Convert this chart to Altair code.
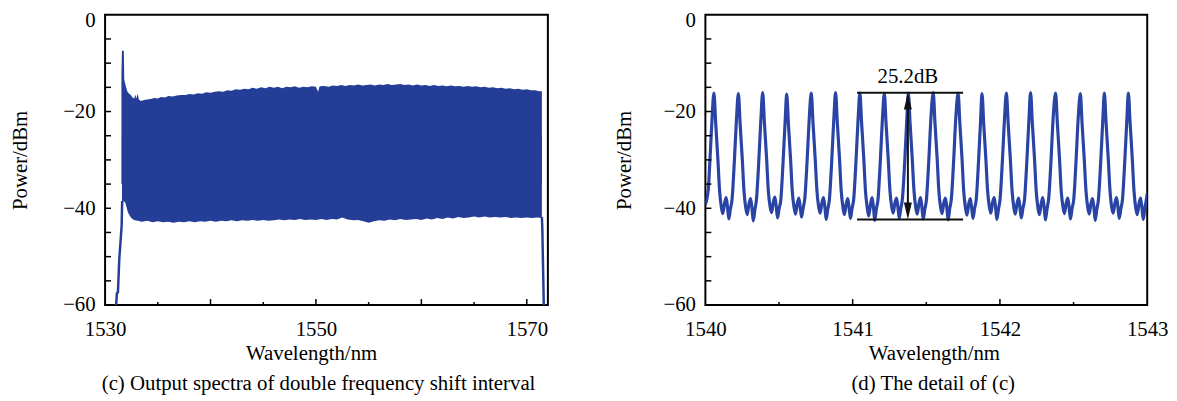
import altair as alt
import pandas as pd

FONT = "Liberation Serif"
FILL_BLUE = "#243e98"
LINE_BLUE = "#2944a4"

# ---------------- Panel (c): dense comb, drawn as its envelope ----------------
upper_wl = [1531.55, 1531.60, 1531.78, 1531.82, 1531.95, 1532.12, 1532.28, 1532.44, 1532.60, 1532.78,
            1532.88, 1532.96, 1533.10, 1533.20, 1533.40, 1533.7, 1534.0, 1534.3, 1534.7, 1535.0,
            1535.3, 1535.7, 1536.0, 1536.4, 1536.8, 1537.2, 1537.6, 1538.0, 1538.4, 1538.8,
            1539.2, 1539.6, 1540.0, 1540.4, 1540.8, 1541.2, 1541.6, 1542.0, 1542.4, 1542.8,
            1543.2, 1543.6, 1544.0, 1544.4, 1544.8, 1545.2, 1545.6, 1546.0, 1546.4, 1546.8,
            1547.2, 1547.6, 1548.0, 1548.4, 1548.8, 1549.2, 1549.6, 1550.0, 1550.2, 1550.35,
            1550.8, 1551.2, 1551.6, 1552.0, 1552.4, 1552.8, 1553.2, 1553.6, 1554.0, 1554.4,
            1554.8, 1555.2, 1555.6, 1556.0, 1556.4, 1556.8, 1557.2, 1557.6, 1558.0, 1558.4,
            1558.8, 1559.2, 1559.6, 1560.0, 1560.4, 1560.8, 1561.2, 1561.6, 1562.0, 1562.4,
            1562.8, 1563.2, 1563.6, 1564.0, 1564.4, 1564.8, 1565.2, 1565.6, 1566.0, 1566.4,
            1566.8, 1567.2, 1567.6, 1568.0, 1568.4, 1568.8, 1569.2, 1569.6, 1570.0, 1570.4,
            1570.8, 1571.2, 1571.43]
upper_db = [-12.0, -7.4, -7.5, -13.4, -14.6, -15.9, -16.3, -16.6, -17.1, -17.3,
            -16.5, -17.3, -16.3, -17.5, -17.8, -17.6, -17.5, -17.4, -17.2, -17.3,
            -17.0, -17.1, -16.8, -16.9, -16.7, -16.6, -16.6, -16.4, -16.5, -16.2,
            -16.3, -16.0, -16.1, -15.9, -15.8, -15.9, -15.6, -15.7, -15.4, -15.5,
            -15.3, -15.4, -15.1, -15.3, -15.0, -15.2, -14.9, -15.1, -14.9, -15.2,
            -14.9, -15.0, -14.8, -15.1, -14.9, -15.0, -14.8, -14.9, -15.9, -14.8,
            -14.7, -14.9, -14.6, -14.7, -14.5, -14.7, -14.5, -14.6, -14.4, -14.6,
            -14.5, -14.4, -14.6, -14.4, -14.5, -14.3, -14.5, -14.4, -14.3, -14.5,
            -14.4, -14.6, -14.4, -14.6, -14.5, -14.7, -14.5, -14.7, -14.6, -14.8,
            -14.6, -14.8, -14.7, -14.9, -14.7, -14.9, -14.8, -15.0, -14.9, -15.1,
            -15.0, -15.2, -15.1, -15.3, -15.2, -15.4, -15.3, -15.5, -15.4, -15.6,
            -15.6, -15.8, -15.8]

lower_wl = [1531.60, 1531.74, 1531.93, 1532.16, 1532.44, 1532.73, 1533.1, 1533.5, 1534.0, 1534.5,
            1535.0, 1535.5, 1536.0, 1536.5, 1537.0, 1537.5, 1538.0, 1538.5, 1539.0, 1539.5,
            1540.0, 1540.5, 1541.0, 1541.5, 1542.0, 1542.5, 1543.0, 1543.5, 1544.0, 1544.5,
            1545.0, 1545.5, 1546.0, 1546.5, 1547.0, 1547.5, 1548.0, 1548.5, 1549.0, 1549.5,
            1550.0, 1550.5, 1551.0, 1551.5, 1552.0, 1552.5, 1553.0, 1553.5, 1554.0, 1554.5,
            1555.0, 1555.5, 1556.0, 1556.5, 1557.0, 1557.5, 1558.0, 1558.5, 1559.0, 1559.5,
            1560.0, 1560.5, 1561.0, 1561.5, 1562.0, 1562.5, 1563.0, 1563.5, 1564.0, 1564.5,
            1565.0, 1565.5, 1566.0, 1566.5, 1567.0, 1567.5, 1568.0, 1568.5, 1569.0, 1569.5,
            1570.0, 1570.5, 1571.0, 1571.43]
lower_db = [-41.5, -38.4, -38.9, -40.8, -41.9, -42.4, -42.6, -42.8, -42.6, -42.9,
            -42.7, -42.9, -42.8, -43.0, -42.8, -42.9, -42.7, -42.9, -42.7, -42.8,
            -42.6, -42.8, -42.6, -42.7, -42.5, -42.7, -42.5, -42.6, -42.4, -42.6,
            -42.4, -42.6, -42.5, -42.3, -42.5, -42.3, -42.4, -42.2, -42.4, -42.3,
            -42.4, -42.2, -42.4, -42.2, -42.3, -41.9, -42.3, -42.5, -42.4, -42.7,
            -43.0, -42.7, -42.5, -42.6, -42.3, -42.5, -42.2, -42.4, -42.3, -42.2,
            -42.4, -42.1, -42.3, -42.0, -42.2, -41.9, -42.1, -41.8, -42.0, -41.9,
            -41.7, -41.9, -41.7, -41.9, -41.8, -41.9, -41.8, -42.0, -41.9, -42.0,
            -41.9, -42.0, -41.9, -42.0]

rise_wl = [1531.02, 1531.12, 1531.22, 1531.35, 1531.57, 1531.62]
rise_db = [-61.0, -57.6, -57.3, -50.4, -43.7, -38.5]
fall_wl = [1571.43, 1571.47, 1571.55, 1571.62]
fall_db = [-41.8, -44.0, -53.0, -61.0]

# ---------------- Panel (d): detail of the comb ----------------
peak_wl = [1540.058, 1540.224, 1540.389, 1540.552, 1540.719, 1540.884, 1541.049, 1541.215, 1541.378,
           1541.547, 1541.716, 1541.878, 1542.044, 1542.208, 1542.378, 1542.546, 1542.709, 1542.872]
shape_offset = [0.000, 0.012, 0.027, 0.038, 0.050, 0.060, 0.072, 0.083, 0.093, 0.101, 0.112, 0.123, 0.139, 0.153]
period_db = [
    [-16.2, -22.4, -30.0, -36.2, -39.7, -41.1, -39.0, -37.8, -40.0, -42.2, -40.1, -38.2, -30.1, -21.6],
    [-16.3, -22.6, -30.1, -36.4, -39.9, -41.3, -39.1, -38.0, -40.2, -42.6, -40.3, -38.1, -30.0, -21.5],
    [-16.1, -22.4, -29.9, -36.3, -39.6, -40.9, -38.8, -37.7, -39.9, -42.0, -40.0, -38.3, -30.2, -21.7],
    [-16.4, -22.7, -30.2, -36.5, -39.8, -41.2, -39.0, -37.9, -40.1, -41.8, -39.9, -38.0, -30.0, -21.5],
    [-16.2, -22.5, -30.0, -36.2, -39.7, -41.0, -38.9, -37.8, -40.0, -42.3, -40.2, -38.2, -30.1, -21.6],
    [-16.1, -22.4, -29.9, -36.3, -39.8, -41.3, -39.1, -38.0, -40.2, -42.1, -40.0, -38.1, -30.0, -21.5],
    [-16.2, -22.5, -30.0, -36.4, -39.9, -41.6, -39.2, -37.8, -40.1, -42.5, -40.1, -38.2, -30.1, -21.6],
    [-16.3, -22.6, -30.1, -36.3, -39.7, -41.0, -38.9, -37.9, -40.0, -42.0, -40.0, -38.0, -30.0, -21.5],
    [-16.2, -22.5, -30.0, -36.2, -39.8, -41.2, -39.0, -37.8, -40.1, -42.2, -40.2, -38.2, -30.1, -21.6],
    [-16.1, -22.4, -29.9, -36.3, -39.8, -41.1, -38.9, -37.9, -40.0, -42.4, -40.1, -38.1, -30.0, -21.5],
    [-16.2, -22.5, -30.0, -36.4, -39.9, -41.4, -39.1, -38.0, -40.2, -42.1, -40.0, -38.2, -30.1, -21.6],
    [-16.3, -22.6, -30.1, -36.3, -39.7, -41.0, -38.8, -37.8, -40.0, -42.3, -40.2, -38.1, -30.0, -21.5],
    [-16.2, -22.5, -30.0, -36.2, -39.8, -41.2, -39.0, -37.9, -40.1, -42.0, -40.0, -38.2, -30.1, -21.6],
    [-16.1, -22.4, -29.9, -36.3, -39.9, -41.3, -39.1, -37.8, -40.0, -42.4, -40.1, -38.0, -30.0, -21.5],
    [-16.2, -22.5, -30.0, -36.4, -39.7, -41.1, -38.9, -37.9, -40.2, -42.2, -40.0, -38.2, -30.1, -21.6],
    [-16.3, -22.6, -30.1, -36.3, -39.8, -41.2, -39.0, -38.0, -40.1, -42.5, -40.2, -38.1, -30.0, -21.5],
    [-16.2, -22.5, -30.0, -36.2, -39.8, -41.0, -38.9, -37.8, -40.0, -42.1, -40.1, -38.2, -30.1, -21.6],
    [-16.2, -22.4, -29.9, -36.3, -39.9, -41.3, -39.1, -37.9, -40.1, -42.3, -40.0, -38.1],
]
lead_wl = [1540.000, 1540.020, 1540.031, 1540.045]
lead_db = [-39.2, -36.0, -30.0, -21.6]
tail_wl = [1543.0]
tail_db = [-37.0]

# annotation of the extinction ratio
span_db = [-16.1, -42.3]
span_from = 1541.03
span_to = 1541.75
arrow_wl = 1541.375
arrow_shaft = [-18.0, -40.5]
label_text = "25.2dB"
label_db = -14.2

# axes: labels and tick positions
y_labels = [0, -20, -40, -60]
y_ticks = [-55, -50, -45, -40, -35, -30, -25, -20, -15, -10, -5]
c_labels = [1530, 1550, 1570]
c_major = [1540, 1550, 1560, 1570]
c_minor = [1535, 1545, 1555, 1565]
d_labels = [1540, 1541, 1542, 1543]
d_major = [1541, 1542]
d_minor = [1540.5, 1541.5, 1542.5]

H = 293
W_C = 447
W_D = 446

y_scale = alt.Scale(domain=[-60, 0], nice=False, zero=False)


def y_axis(title_x):
    return alt.Axis(values=y_labels, format="d", labelPadding=10, labelFlush=False,
                    labelOffset={"condition": {"test": "datum.value == 0", "value": 6}, "value": 0},
                    title="Power/dBm", titleX=title_x, titleBaseline="middle", titleAlign="center")


def x_axis(values, title_x, fmt):
    return alt.Axis(values=values, format=fmt, labelPadding=14, labelFlush=False,
                    title="Wavelength/nm", titleX=title_x, titleY=55,
                    titleBaseline="alphabetic", titleAlign="center")


def tick_layers(x_scale, major, minor):
    lt = alt.Chart(pd.DataFrame({"db": y_ticks})).mark_rule(color="black", strokeWidth=1.5).encode(
        y=alt.Y("db:Q", scale=y_scale), x=alt.value(0), x2=alt.value(6))
    mj = alt.Chart(pd.DataFrame({"wl": major})).mark_rule(color="black", strokeWidth=1.5).encode(
        x=alt.X("wl:Q", scale=x_scale), y=alt.value(H), y2=alt.value(H - 6))
    mn = alt.Chart(pd.DataFrame({"wl": minor})).mark_rule(color="black", strokeWidth=1.5).encode(
        x=alt.X("wl:Q", scale=x_scale), y=alt.value(H), y2=alt.value(H - 3))
    return [lt, mj, mn]


# ---------------- left chart ----------------
xs_c = alt.Scale(domain=[1530, 1572], nice=False, zero=False)
df_up = pd.DataFrame({"wl": upper_wl, "db": upper_db})
df_lo = pd.DataFrame({"wl": lower_wl, "db": lower_db})
df_rise = pd.DataFrame({"wl": rise_wl, "db": rise_db})
df_fall = pd.DataFrame({"wl": fall_wl, "db": fall_db})

up_area = alt.Chart(df_up).mark_area(color=FILL_BLUE, clip=True).encode(
    x=alt.X("wl:Q", scale=xs_c, axis=x_axis(c_labels, 208, "d")),
    y=alt.Y("db:Q", scale=y_scale, axis=y_axis(-85.5)),
    y2=alt.datum(-35),
)
lo_area = alt.Chart(df_lo).mark_area(color=FILL_BLUE, clip=True).encode(
    x=alt.X("wl:Q", scale=xs_c),
    y=alt.Y("db:Q", scale=y_scale),
    y2=alt.datum(-25),
)
rise_line = alt.Chart(df_rise).mark_line(color=FILL_BLUE, strokeWidth=2.5, clip=True).encode(
    x=alt.X("wl:Q", scale=xs_c), y=alt.Y("db:Q", scale=y_scale))
fall_line = alt.Chart(df_fall).mark_line(color=FILL_BLUE, strokeWidth=2.5, clip=True).encode(
    x=alt.X("wl:Q", scale=xs_c), y=alt.Y("db:Q", scale=y_scale))

left = alt.layer(up_area, lo_area, rise_line, fall_line,
                 *tick_layers(xs_c, c_major, c_minor)).properties(
    width=W_C, height=H,
    title=alt.TitleParams("(c) Output spectra of double frequency shift interval", dx=-8),
)

# ---------------- right chart ----------------
xs_d = alt.Scale(domain=[1540, 1543], nice=False, zero=False)
d_wl = list(lead_wl)
d_db = list(lead_db)
for pk, row in zip(peak_wl, period_db):
    for off, v in zip(shape_offset, row):
        d_wl.append(round(pk + off, 4))
        d_db.append(v)
d_wl += tail_wl
d_db += tail_db
df_d = pd.DataFrame({"wl": d_wl, "db": d_db})

curve = alt.Chart(df_d).mark_line(color=LINE_BLUE, strokeWidth=3.2, interpolate="monotone", clip=True).encode(
    x=alt.X("wl:Q", scale=xs_d, axis=x_axis(d_labels, 230.7, "d")),
    y=alt.Y("db:Q", scale=y_scale, axis=y_axis(-82)),
)
df_span = pd.DataFrame({"db": span_db, "x0": [span_from] * 2, "x1": [span_to] * 2})
spans = alt.Chart(df_span).mark_rule(color="#111111", strokeWidth=2).encode(
    y=alt.Y("db:Q", scale=y_scale), x=alt.X("x0:Q", scale=xs_d), x2="x1:Q")
df_shaft = pd.DataFrame({"wl": [arrow_wl], "a": [arrow_shaft[0]], "b": [arrow_shaft[1]]})
shaft = alt.Chart(df_shaft).mark_rule(color="#111111", strokeWidth=2).encode(
    x=alt.X("wl:Q", scale=xs_d), y=alt.Y("a:Q", scale=y_scale), y2="b:Q")
head_up = alt.Chart(pd.DataFrame({"wl": [arrow_wl], "db": [span_db[0]]})).mark_point(
    shape="M0,0L0.47,2L-0.47,2Z", filled=True, size=289, color="#111111", opacity=1, strokeWidth=0).encode(
    x=alt.X("wl:Q", scale=xs_d), y=alt.Y("db:Q", scale=y_scale))
head_dn = alt.Chart(pd.DataFrame({"wl": [arrow_wl], "db": [span_db[1]]})).mark_point(
    shape="M0,0L0.47,-2L-0.47,-2Z", filled=True, size=289, color="#111111", opacity=1, strokeWidth=0).encode(
    x=alt.X("wl:Q", scale=xs_d), y=alt.Y("db:Q", scale=y_scale))
label = alt.Chart(pd.DataFrame({"wl": [arrow_wl], "db": [label_db], "t": [label_text]})).mark_text(
    font=FONT, fontSize=21, baseline="alphabetic", align="center", color="black").encode(
    x=alt.X("wl:Q", scale=xs_d), y=alt.Y("db:Q", scale=y_scale), text="t:N")

right = alt.layer(curve, spans, shaft, head_up, head_dn, label,
                  *tick_layers(xs_d, d_major, d_minor)).properties(
    width=W_D, height=H,
    title=alt.TitleParams("(d) The detail of (c)", dx=7),
)

chart = alt.hconcat(left, right, spacing=64).properties(
    padding={"left": 0, "top": -1, "right": 0, "bottom": 0}
).configure_view(
    stroke="black", strokeWidth=2
).configure_axis(
    domain=False, ticks=False, grid=False,
    labelFont=FONT, labelFontSize=21, labelColor="black",
    titleFont=FONT, titleFontSize=21, titleFontWeight="normal", titleColor="black",
).configure_title(
    font=FONT, fontSize=21, fontWeight="normal", color="black",
    orient="bottom", anchor="middle", frame="group", offset=10,
)

chart.save("out.html", embed_options={"renderer": "svg", "actions": False})
